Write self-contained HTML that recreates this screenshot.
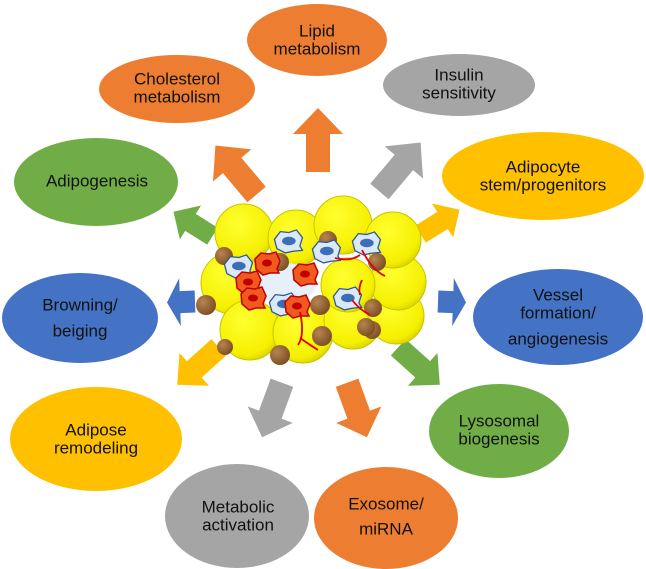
<!DOCTYPE html>
<html><head><meta charset="utf-8"><style>
html,body{margin:0;padding:0;background:#fff;}
svg{display:block;}
text{font-family:"Liberation Sans",Arial,sans-serif;font-size:17px;fill:#111;text-anchor:middle;dominant-baseline:central;}
</style></head><body>
<svg width="646" height="569" viewBox="0 0 646 569" xmlns="http://www.w3.org/2000/svg">
<defs>
<radialGradient id="yg" cx="0.4" cy="0.35" r="0.7"><stop offset="0" stop-color="#ffff30"/><stop offset="0.8" stop-color="#f5f000"/><stop offset="1" stop-color="#d8d000"/></radialGradient>
<radialGradient id="bg" cx="0.35" cy="0.35" r="0.7"><stop offset="0" stop-color="#b88552"/><stop offset="1" stop-color="#7a4d22"/></radialGradient>
<g id="bc" transform="scale(0.85)"><polygon points="-16,-2 -9,-11 1,-10 10,-13 17,-4 14,6 17,11 6,12 -3,14 -13,9" fill="#dbe8f7" stroke="#2f5597" stroke-width="1.5"/><ellipse cx="1" cy="0" rx="8" ry="5" fill="#3a6fb8"/></g>
<g id="rc"><polygon points="-12,-4 -6,-10 2,-9 9,-11 13,-2 10,6 12,10 3,10 -4,12 -11,6" fill="#f05a1e" stroke="#c00000" stroke-width="1.5"/><ellipse cx="0" cy="0" rx="5" ry="3.5" fill="#c00000"/></g>
</defs>

<ellipse cx="317" cy="40" rx="70" ry="36" fill="#ed7d31"/>
<ellipse cx="177" cy="89" rx="78" ry="34" fill="#ed7d31"/>
<ellipse cx="459" cy="85" rx="76" ry="31" fill="#a5a5a5"/>
<ellipse cx="96" cy="182" rx="82" ry="44" fill="#70ad47"/>
<ellipse cx="543" cy="176" rx="101" ry="44" fill="#ffc000"/>
<ellipse cx="80" cy="318" rx="78" ry="45" fill="#4472c4"/>
<ellipse cx="558" cy="317" rx="85" ry="48" fill="#4472c4"/>
<ellipse cx="96" cy="439" rx="86" ry="52" fill="#ffc000"/>
<ellipse cx="499" cy="431" rx="70" ry="47" fill="#70ad47"/>
<ellipse cx="237" cy="516" rx="72" ry="52" fill="#a5a5a5"/>
<ellipse cx="386" cy="518" rx="72" ry="51" fill="#ed7d31"/>

<text x="317" y="31">Lipid</text><text x="317" y="49">metabolism</text>
<text x="177" y="79">Cholesterol</text><text x="177" y="97">metabolism</text>
<text x="459" y="75">Insulin</text><text x="459" y="93">sensitivity</text>
<text x="97" y="181">Adipogenesis</text>
<text x="543" y="167">Adipocyte</text><text x="543" y="185">stem/progenitors</text>
<text x="80" y="305">Browning/</text><text x="80" y="331">beiging</text>
<text x="558" y="295">Vessel</text><text x="558" y="313">formation/</text><text x="558" y="339">angiogenesis</text>
<text x="96" y="430">Adipose</text><text x="96" y="448">remodeling</text>
<text x="499" y="421">Lysosomal</text><text x="499" y="439">biogenesis</text>
<text x="238" y="507">Metabolic</text><text x="238" y="525">activation</text>
<text x="386" y="504">Exosome/</text><text x="386" y="529">miRNA</text>

<g fill="#ed7d31"><polygon transform="translate(318,140)" points="-12,32 12,32 12,-6 25,-6 0,-32 -25,-6 -12,-6"/></g>
<g fill="#ed7d31"><polygon transform="translate(236,170) rotate(-40)" points="-12,32 12,32 12,-6 25,-6 0,-32 -25,-6 -12,-6"/></g>
<g fill="#a5a5a5"><polygon transform="translate(400,167) rotate(40)" points="-12,32 12,32 12,-6 25,-6 0,-32 -25,-6 -12,-6"/></g>
<g fill="#70ad47"><polygon transform="translate(193,224) rotate(-58)" points="-10,23 10,23 10,-3 20,-3 0,-23 -20,-3 -10,-3"/></g>
<g fill="#ffc000"><polygon transform="translate(440,222) rotate(58)" points="-10,23 10,23 10,-3 20,-3 0,-23 -20,-3 -10,-3"/></g>
<g fill="#4472c4"><polygon transform="translate(182,302) rotate(-92)" points="-11,13 11,13 11,-2 24,-2 0,-15 -24,-2 -11,-2"/></g>
<g fill="#4472c4"><polygon transform="translate(451,302) rotate(92)" points="-11,13 11,13 11,-2 24,-2 0,-15 -24,-2 -11,-2"/></g>
<g fill="#ffc000"><polygon transform="translate(198,366) rotate(-132)" points="-11,28 11,28 11,-5 22,-5 0,-28 -22,-5 -11,-5"/></g>
<g fill="#70ad47"><polygon transform="translate(419,366) rotate(132)" points="-11,28 11,28 11,-5 22,-5 0,-28 -22,-5 -11,-5"/></g>
<g fill="#a5a5a5"><polygon transform="translate(272,410) rotate(-160)" points="-12,29 12,29 12,-5 24,-5 0,-29 -24,-5 -12,-5"/></g>
<g fill="#ed7d31"><polygon transform="translate(357,410) rotate(160)" points="-12,29 12,29 12,-5 24,-5 0,-29 -24,-5 -12,-5"/></g>

<g stroke="#c8c400" stroke-width="1">
<circle cx="232" cy="283" r="31" fill="url(#yg)"/>
<circle cx="250" cy="330" r="30" fill="url(#yg)"/>
<circle cx="303" cy="333" r="30" fill="url(#yg)"/>
<circle cx="353" cy="320" r="29" fill="url(#yg)"/>
<circle cx="396" cy="316" r="28" fill="url(#yg)"/>
<circle cx="398" cy="282" r="28" fill="url(#yg)"/>
<circle cx="244" cy="233" r="29" fill="url(#yg)"/>
<circle cx="296" cy="238" r="28" fill="url(#yg)"/>
<circle cx="343" cy="225" r="29" fill="url(#yg)"/>
<circle cx="393" cy="240" r="28" fill="url(#yg)"/>
<circle cx="348" cy="285" r="27" fill="url(#yg)"/>
</g>
<ellipse cx="285" cy="283" rx="32" ry="20" fill="#e6f0fa"/>
<g fill="url(#bg)">
<circle cx="224" cy="256" r="9"/><circle cx="280" cy="262" r="9"/><circle cx="328" cy="240" r="9"/>
<circle cx="377" cy="262" r="9"/><circle cx="206" cy="305" r="10"/><circle cx="320" cy="305" r="10"/>
<circle cx="373" cy="308" r="9"/><circle cx="372" cy="330" r="9"/><circle cx="225" cy="347" r="8"/>
<circle cx="280" cy="355" r="10"/><circle cx="322" cy="336" r="10"/><circle cx="366" cy="327" r="9"/>
</g>
<use href="#bc" x="288" y="241"/><use href="#bc" x="326" y="251"/><use href="#bc" x="366" y="243"/>
<use href="#bc" x="238" y="266"/><use href="#bc" x="283" y="304"/><use href="#bc" x="347" y="298"/>
<use href="#rc" x="267" y="263"/><use href="#rc" x="248" y="282"/><use href="#rc" x="305" y="274"/>
<use href="#rc" x="253" y="298"/><use href="#rc" x="297" y="306"/>
<g fill="none" stroke="#e00000" stroke-width="1.8">
<path d="M335,258 Q350,262 360,255"/><path d="M362,250 Q372,270 385,276"/>
<path d="M300,312 Q305,335 298,345"/><path d="M300,338 Q310,345 318,350"/>
<path d="M352,300 Q360,310 370,315"/><path d="M362,280 Q358,288 360,295"/>
</g>
</svg>
</body></html>
